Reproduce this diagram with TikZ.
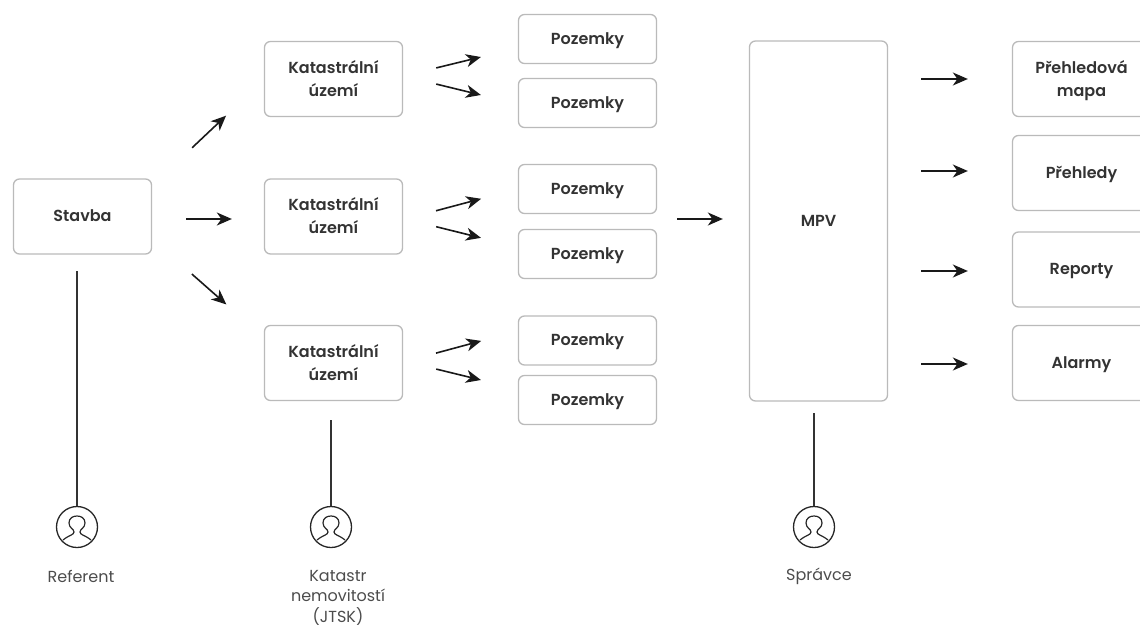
\documentclass[tikz,border=0pt]{standalone}
\usepackage{fontspec}
\setmainfont{Poppins}[BoldFont=Poppins SemiBold]
\usetikzlibrary{arrows.meta}
\tikzset{
  box/.style={draw=black!27,line width=1.3pt,rounded corners=6pt,minimum width=138pt,minimum height=75pt,align=center,font=\fontsize{16}{23}\selectfont\bfseries,text=black!80,inner sep=0pt,text depth=1pt},
  small/.style={box,minimum height=49pt},
  flow/.style={-{Stealth[length=15pt,width=13pt,inset=4.5pt]},line width=1.6pt,black!90},
  wire/.style={line width=1.5pt,black!80},
  usericon/.style={circle,draw=black!85,line width=1.3pt,minimum size=41pt,inner sep=0pt,path picture={
    \draw[black!85,line width=1.2pt] (-3,-5) .. controls (-3,-2) and (-8,-1) .. (-8,4) .. controls (-8,9) and (-4,11) .. (0,11) .. controls (4,11) and (8,9) .. (8,4) .. controls (8,-1) and (3,-2) .. (3,-5) .. controls (3,-8) and (8,-8) .. (14,-13);
    \draw[black!85,line width=1.2pt] (-3,-5) .. controls (-3,-8) and (-8,-8) .. (-14,-13);
  }},
  caption/.style={align=center,font=\fontsize{16}{20.5}\selectfont,text=black!70}
}
\begin{document}
\begin{tikzpicture}[x=1pt,y=1pt,node distance=251pt]
    \useasboundingbox (0,-626) rectangle (1140,0);
    \node[box] (Stavba) at (82.5,-216.5) {Stavba};
    \node[box] (K2) [right of=Stavba] {Katastrální\\území};
    \node[box] (K1) [above of=K2,node distance=137.5pt] {Katastrální\\území};
    \node[box] (K3) [below of=K2,node distance=146.5pt] {Katastrální\\území};
    \node[small] (P1) at (587.5,-39) {Pozemky};
    \node[small] (P2) [below of=P1,node distance=64pt] {Pozemky};
    \node[small] (P3) at (587.5,-189) {Pozemky};
    \node[small] (P4) [below of=P3,node distance=65pt] {Pozemky};
    \node[small] (P5) at (587.5,-340.5) {Pozemky};
    \node[small] (P6) [below of=P5,node distance=59.5pt] {Pozemky};
    \node[box,minimum height=360pt] (MPV) at (818.5,-221) {MPV};
    \node[box] (R1) at (1081.5,-79) {Přehledová\\mapa};
    \node[box] (R2) at (1081.5,-173) {Přehledy};
    \node[box] (R3) at (1081.5,-269.5) {Reporty};
    \node[box] (R4) at (1081.5,-363) {Alarmy};
    \node[usericon] (U1) at (77,-527) {};
    \node[usericon] (U2) at (331,-527) {};
    \node[usericon] (U3) at (814,-527) {};
    \node[caption] (C1) at (81,-576) {Referent};
    \node[caption,anchor=north] (C2) at (338,-566.5) {Katastr\\nemovitostí\\(JTSK)};
    \node[caption] (C3) at (819,-576) {Správce};
    \path[flow]
      ([yshift=31pt]Stavba.east) edge[shorten <=55pt,shorten >=52pt] ([yshift=-1pt]K1.west)
      ([yshift=-2.5pt]Stavba.east) edge[shorten <=34pt,shorten >=32pt] ([yshift=-2.5pt]K2.west)
      ([yshift=-22.5pt]Stavba.east) edge[shorten <=53pt,shorten >=50pt] ([yshift=25.5pt]K3.west)
      ([yshift=3pt]K1.east) edge[shorten <=34pt,shorten >=38pt] ([yshift=-9pt]P1.west)
      ([yshift=3pt]K1.east) edge[shorten <=34pt,shorten >=38pt] ([yshift=-1pt]P2.west)
      ([yshift=-3pt]K2.east) edge[shorten <=34pt,shorten >=38pt] (P3.west)
      ([yshift=-2pt]K2.east) edge[shorten <=34pt,shorten >=38pt] ([yshift=7pt]P4.west)
      ([yshift=1pt]K3.east) edge[shorten <=34pt,shorten >=38pt] ([yshift=9.5pt]P5.west)
      ([yshift=2pt]K3.east) edge[shorten <=34pt,shorten >=38pt] ([yshift=11pt]P6.west)
      ([yshift=2pt]P3.east |- MPV.west) edge[shorten <=20pt,shorten >=26pt] ([yshift=2pt]MPV.west)
      (MPV.east |- R1.west) edge[shorten <=33pt,shorten >=44pt] (R1.west)
      ([yshift=2pt]MPV.east |- R2.west) edge[shorten <=33pt,shorten >=44pt] ([yshift=2pt]R2.west)
      ([yshift=-1.5pt]MPV.east |- R3.west) edge[shorten <=33pt,shorten >=44pt] ([yshift=-1.5pt]R3.west)
      ([yshift=-1pt]MPV.east |- R4.west) edge[shorten <=33pt,shorten >=44pt] ([yshift=-1pt]R4.west);
    \draw[wire,shorten >=16pt] (U1) -- (U1 |- Stavba.south);
    \draw[wire,shorten >=19pt] (U2) -- (U2 |- K3.south);
    \draw[wire,shorten >=11pt] (U3) -- (U3 |- MPV.south);
  \end{tikzpicture}
\end{document}
